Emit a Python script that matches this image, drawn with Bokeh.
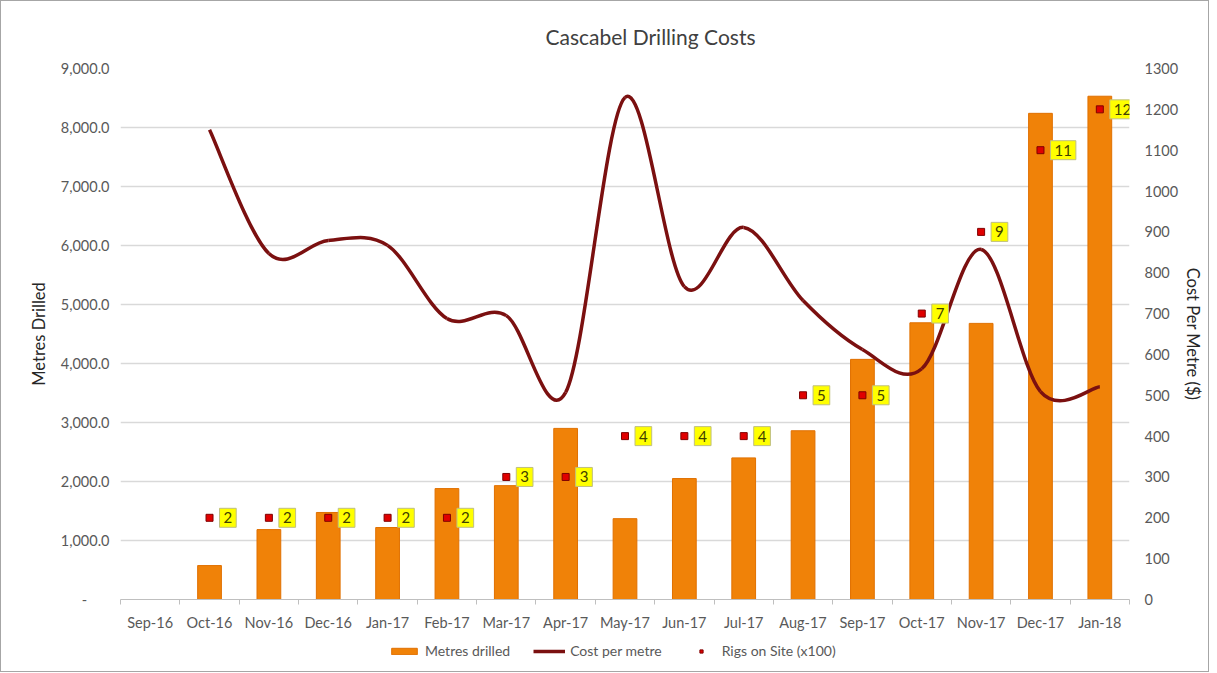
from bokeh.plotting import figure
from bokeh.layouts import column
from bokeh.models import (Range1d, LinearAxis, FixedTicker, NumeralTickFormatter,
                          Legend, LegendItem, ColumnDataSource, Title)
from bokeh.core.properties import value
from bokeh.embed import file_html
from bokeh.resources import INLINE

months = ["Sep-16", "Oct-16", "Nov-16", "Dec-16", "Jan-17", "Feb-17", "Mar-17", "Apr-17",
          "May-17", "Jun-17", "Jul-17", "Aug-17", "Sep-17", "Oct-17", "Nov-17", "Dec-17", "Jan-18"]
metres = [0, 575, 1185, 1475, 1220, 1880, 1930, 2900, 1370, 2050, 2400, 2860,
          4070, 4690, 4680, 8240, 8530]
cost = [None, 1150, 847, 879, 867, 688, 695, 507, 1229, 766, 911, 732,
        612, 565, 857, 509, 521]
rigs = [None, 2, 2, 2, 2, 2, 3, 3, 4, 4, 4, 5, 5, 7, 9, 11, 12]
left_ticks = [0, 1000, 2000, 3000, 4000, 5000, 6000, 7000, 8000, 9000]
right_ticks = list(range(0, 1400, 100))

FONT = "Lato"
TXT = "#595959"
TICK_FS = "14.5px"
AXT_FS = "16.5px"
BAR_FILL, BAR_LINE = "#F08208", "#E07000"
LINE_C = "#7B1010"
RIG_FILL, RIG_LINE = "#E00000", "#800000"

idx = list(range(len(months)))

p = figure(width=1209, height=634, output_backend="svg", toolbar_location=None,
           x_range=Range1d(-0.5, len(months) - 0.5), y_range=Range1d(0, 9000),
           min_border_left=119, min_border_right=79, min_border_top=67, min_border_bottom=36)
p.outline_line_color = None
p.background_fill_color = "white"
p.border_fill_color = "white"

p.title = Title(text="Cascabel Drilling Costs", align="left", offset=425,
                text_font=FONT, text_font_size="21px", text_font_style="normal",
                text_color="#404040", standoff=39)

p.extra_y_ranges = {"cost": Range1d(0, 1300)}

# x axis
p.xaxis.ticker = FixedTicker(ticks=idx, minor_ticks=[i - 0.5 for i in range(len(months) + 1)])
p.xaxis.major_label_overrides = {i: m for i, m in enumerate(months)}
p.xaxis.major_tick_line_color = None
p.xaxis.minor_tick_line_color = "#BFBFBF"
p.xaxis.minor_tick_out = 5
p.xaxis.minor_tick_in = 0
p.xaxis.axis_line_color = "#BFBFBF"
p.xaxis.major_label_text_font = FONT
p.xaxis.major_label_text_font_size = TICK_FS
p.xaxis.major_label_text_color = TXT
p.xaxis.major_label_standoff = 8
p.xgrid.grid_line_color = None

# left axis
p.yaxis.ticker = FixedTicker(ticks=left_ticks)
p.yaxis.formatter = NumeralTickFormatter(format="0,0.0")
p.yaxis.major_label_overrides = {0: "-\u00a0\u00a0\u00a0\u00a0\u00a0\u00a0"}
p.yaxis.axis_line_color = None
p.yaxis.major_tick_line_color = None
p.yaxis.minor_tick_line_color = None
p.yaxis.major_label_text_font = FONT
p.yaxis.major_label_text_font_size = TICK_FS
p.yaxis.major_label_text_color = TXT
p.yaxis.major_label_standoff = 5
p.yaxis.axis_label = "Metres Drilled"
p.yaxis.axis_label_text_font = FONT
p.yaxis.axis_label_text_font_size = AXT_FS
p.yaxis.axis_label_text_font_style = "normal"
p.yaxis.axis_label_text_color = "#262626"
p.yaxis.axis_label_standoff = 9
p.ygrid.grid_line_color = "#D9D9D9"
p.ygrid.grid_line_width = 1.5

# right axis
ra = LinearAxis(y_range_name="cost", ticker=FixedTicker(ticks=right_ticks))
ra.axis_line_color = None
ra.major_tick_line_color = None
ra.minor_tick_line_color = None
ra.major_label_text_font = FONT
ra.major_label_text_font_size = TICK_FS
ra.major_label_text_color = TXT
ra.major_label_standoff = 9
ra.axis_label = "Cost Per Metre ($)"
ra.axis_label_text_font = FONT
ra.axis_label_text_font_size = AXT_FS
ra.axis_label_text_font_style = "normal"
ra.axis_label_text_color = "#262626"
ra.axis_label_standoff = 2
p.add_layout(ra, "right")

# bars
p.vbar(x=idx, top=metres, width=0.4, fill_color=BAR_FILL, line_color=BAR_LINE, line_width=1)

# smooth cost line (Bezier segments through the data points)
pts = [(i, c) for i, c in zip(idx, cost) if c is not None]
x0s, y0s, x1s, y1s, cx0s, cy0s, cx1s, cy1s = [], [], [], [], [], [], [], []
for k in range(len(pts) - 1):
    pa = pts[k - 1] if k > 0 else pts[k]
    pb, pc = pts[k], pts[k + 1]
    pd = pts[k + 2] if k + 2 < len(pts) else pts[k + 1]
    x0s.append(pb[0]); y0s.append(pb[1])
    x1s.append(pc[0]); y1s.append(pc[1])
    cx0s.append(pb[0] + (pc[0] - pa[0]) / 6); cy0s.append(pb[1] + (pc[1] - pa[1]) / 6)
    cx1s.append(pc[0] - (pd[0] - pb[0]) / 6); cy1s.append(pc[1] - (pd[1] - pb[1]) / 6)
p.bezier(x0=x0s, y0=y0s, x1=x1s, y1=y1s, cx0=cx0s, cy0=cy0s, cx1=cx1s, cy1=cy1s,
         line_color=LINE_C, line_width=3.5, y_range_name="cost")

# rigs on site (x100)
rx = [i for i, r in zip(idx, rigs) if r is not None]
ry = [r * 100 for r in rigs if r is not None]
rl = [str(r) for r in rigs if r is not None]
rsrc = ColumnDataSource(dict(x=rx, y=ry, label=rl))
p.text(x="x", y="y", text="label", source=rsrc, y_range_name="cost",
       x_offset=10, text_align="left", text_baseline="middle",
       text_font=value(FONT), text_font_size="15px", text_color="#404000",
       background_fill_color="#FFFF00", border_line_color="#BFBF80", border_line_width=1,
       padding=4)
p.scatter(x="x", y="y", source=rsrc, y_range_name="cost", marker="square", size=7,
          fill_color=RIG_FILL, line_color=RIG_LINE, line_width=1)

# legend strip below the chart
lf = figure(width=1209, height=36, output_backend="svg", toolbar_location=None,
            x_range=Range1d(0, 1), y_range=Range1d(0, 1),
            min_border_left=0, min_border_right=0, min_border_top=0, min_border_bottom=0)
lf.axis.visible = False
lf.grid.visible = False
lf.outline_line_color = None
lf.background_fill_color = "white"
lf.border_fill_color = "white"
nan = [float("nan")]
lb = lf.vbar(x=nan, top=nan, width=0.1, fill_color=BAR_FILL, line_color=BAR_LINE)
ll = lf.line(x=nan, y=nan, line_color=LINE_C, line_width=3.5)
lr = lf.scatter(x=nan, y=nan, marker="square", size=9, fill_color=RIG_FILL, line_color=RIG_LINE)
legend = Legend(items=[LegendItem(label="Metres drilled", renderers=[lb]),
                       LegendItem(label="Cost per metre", renderers=[ll]),
                       LegendItem(label="Rigs on Site (x100)", renderers=[lr])],
                orientation="horizontal", location=(268, 12),
                label_text_font=FONT, label_text_font_size="14px", label_text_color=TXT,
                glyph_width=32, glyph_height=8, spacing=23, padding=0, margin=0,
                border_line_color=None, background_fill_color=None,
                background_fill_alpha=0, border_line_alpha=0)
lf.add_layout(legend, "center")

layout = column(p, lf, spacing=0)
layout.styles = {"border": "1px solid #A6A6A6", "width": "1209px"}

open("out.html", "w").write(file_html(layout, INLINE))
